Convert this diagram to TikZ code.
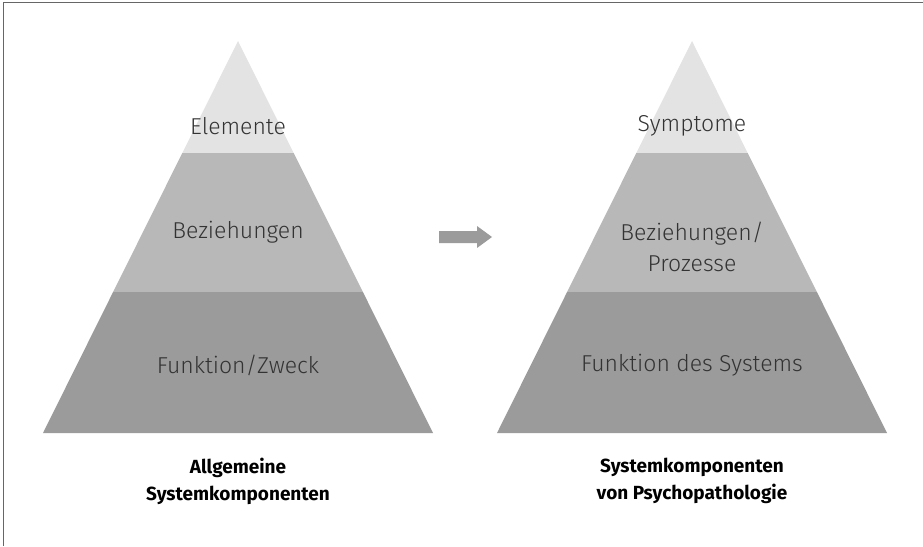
\documentclass[tikz,border=0pt]{standalone}
\usepackage{fontspec}
\setmainfont{Fira Sans}
\newfontfamily\lightfont{Fira Sans Light}
\usepackage{tikz}
\usetikzlibrary{calc, positioning}

\definecolor{layertop}{HTML}{E3E3E3}
\definecolor{layermid}{HTML}{B8B8B8}
\definecolor{layerbot}{HTML}{9B9B9B}
\definecolor{txt}{HTML}{333333}

\begin{document}
\begin{tikzpicture}[
  x=1pt, y=-1pt,
  lay/.style={align=center, text=txt, font=\lightfont\fontsize{23}{31}\selectfont},
  titel/.style={align=center, text=black, font=\bfseries\fontsize{19}{27}\selectfont}]
  \useasboundingbox (0,0) rectangle (923,546);
  % Rahmen
  \draw[gray!80!black, line width=1pt] (3,546) -- (3,2) -- (923,2);
  % Pyramiden
  \foreach \dx in {0,454} {
    \fill[layertop] (238+\dx,41) -- (293.7+\dx,153) -- (182.3+\dx,153) -- cycle;
    \fill[layermid] (182.3+\dx,153) -- (293.7+\dx,153) -- (362.9+\dx,292) -- (113.1+\dx,292) -- cycle;
    \fill[layerbot] (113.1+\dx,292) -- (362.9+\dx,292) -- (433+\dx,433) -- (43+\dx,433) -- cycle;
  }
  % Ebenen links
  \node[lay] (el) at (238,126) {Elemente};
  \node[lay] (bz) at (238,232) {Beziehungen};
  \node[lay] (fz) at (238,365) {Funktion/Zweck};
  % Ebenen rechts
  \node[lay] (sy) at (692,126) {Symptome};
  \node[lay] (bp) at (692,247) {Beziehungen/\\Prozesse};
  \node[lay] (fs) at (692,365) {Funktion des Systems};
  % Pfeil
  \fill[layerbot] (439,231) -- (477,231) -- (477,226) -- (492,237) -- (477,248) -- (477,243) -- (439,243) -- cycle;
  % Beschriftung
  \node[titel] (al) at (238,481) {Allgemeine\\Systemkomponenten};
  \node[titel] (sp) at (692,481) {Systemkomponenten\\von Psychopathologie};
\end{tikzpicture}
\end{document}
